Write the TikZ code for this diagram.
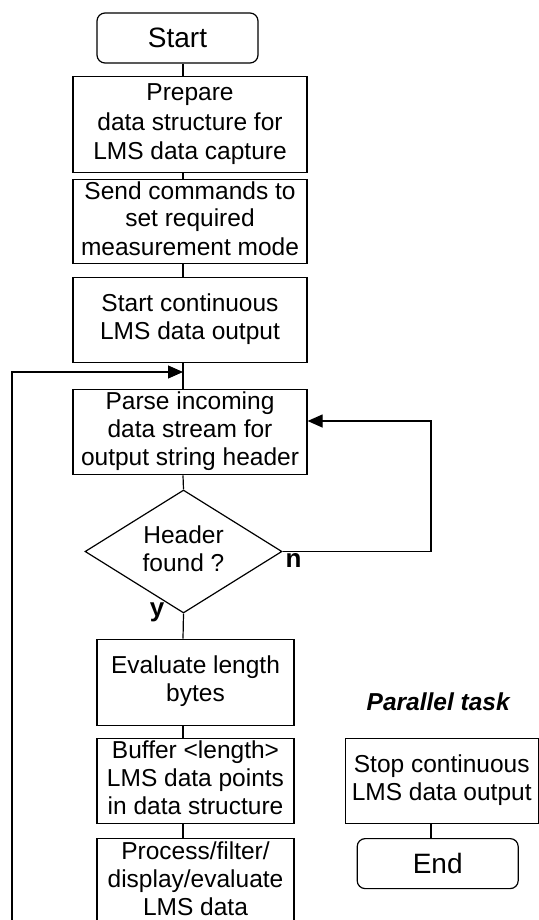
\documentclass[tikz,border=0pt]{standalone}
\usepackage{fontspec}
\setmainfont{Liberation Sans}
\usetikzlibrary{positioning,shapes.geometric,arrows.meta}

\begin{document}
\begin{tikzpicture}[x=1pt,y=-1pt]
            \tikzstyle{stages} = [rectangle,
            minimum width=234pt,
            inner sep=0pt,
            text centered,
            draw=black,
            line width=1.2pt,
            font=\fontsize{24.5}{28}\selectfont]
            \tikzstyle{terminal} = [stages, rounded corners=8pt,
            minimum width=161pt,
            minimum height=50pt,
            font=\fontsize{28}{32}\selectfont]
            \tikzstyle{decision} = [stages, diamond, aspect=1.6,
            minimum width=197pt,
            minimum height=123pt]
            \tikzstyle{connector} = [line width=1.2pt, black]
            \tikzstyle{arrow} = [connector, -{Triangle[length=15pt,width=13pt]}]
            \tikzstyle{answer} = [inner sep=0pt, anchor=base, font=\fontsize{26}{30}\selectfont\bfseries]
            \useasboundingbox (0,0) rectangle (538,920);
            \coordinate (spine) at (183,0);

            \node (stage1)[terminal] at (177.5,38) {Start};
            \node (stage2)[stages, minimum height=96pt, below=12pt of stage1, xshift=12.5pt, font=\fontsize{24.5}{29.5}\selectfont]{\begin{tabular}{c}Prepare\\ data structure for\\ LMS data capture\end{tabular}};
            \node (stage3)[stages, minimum height=83pt, below=6pt of stage2]{\begin{tabular}{c}Send commands to\\ set required\\ measurement mode\end{tabular}};
            \node (stage4)[stages, minimum height=85pt, below=13pt of stage3]{\begin{tabular}{c}Start continuous\\ LMS data output\end{tabular}};
            \node (stage5)[stages, minimum height=85pt, below=26pt of stage4]{\begin{tabular}{c}Parse incoming\\ data stream for\\ output string header\end{tabular}};
            \node (stage6)[decision, below=14pt of stage5, xshift=-6.5pt]{\begin{tabular}{c}Header\\ found ?\end{tabular}};
            \node (stage7)[stages, minimum width=197pt, minimum height=86pt, below=25pt of stage6, xshift=12pt]{\begin{tabular}{c}Evaluate length\\ bytes\end{tabular}};
            \node (stage8)[stages, minimum width=197pt, minimum height=85pt, below=12pt of stage7]{\begin{tabular}{c}Buffer <length>\\ LMS data points\\ in data structure\end{tabular}};
            \node (stage9)[stages, minimum width=197pt, minimum height=86pt, below=14pt of stage8]{\begin{tabular}{c}Process/filter/\\ display/evaluate\\ LMS data\end{tabular}};
            \node (stage10)[stages, minimum width=193pt, minimum height=85pt, right=50pt of stage8]{\begin{tabular}{c}Stop continuous\\ LMS data output\end{tabular}};
            \node (stage11)[terminal, below=14pt of stage10, xshift=-4pt]{End};
            \node (parallel)[inner sep=0pt, above=27pt of stage10, xshift=-3.5pt, font=\fontsize{24.5}{28}\selectfont\bfseries\itshape]{Parallel task};
            \node (no)[answer] at (293.5,567) {n};
            \node (yes)[answer] at (157,616) {y};

            \coordinate (loopl) at (12,920);
            \coordinate (merge) at (183,372);
            \coordinate (loopr) at (431,421);

            \draw [connector] (stage1.south -| spine) -- (stage2.north -| spine);
            \draw [connector] (stage2.south -| spine) -- (stage3.north -| spine);
            \draw [connector] (stage3.south -| spine) -- (stage4.north -| spine);
            \draw [connector] (stage4.south -| spine) -- (stage5.north -| spine);
            \draw [arrow] (loopl) |- (merge);
            \draw [connector] (stage5.south -| spine) -- (stage6.north);
            \draw [arrow] (stage6.east) -| (loopr) -- (loopr -| stage5.east);
            \draw [connector] (stage6.south) -- (stage7.north -| spine);
            \draw [connector] (stage7.south -| spine) -- (stage8.north -| spine);
            \draw [connector] (stage8.south -| spine) -- (stage9.north -| spine);
            \draw [connector] (stage9.south -| spine) -- (spine |- loopl);
            \draw [connector] (stage10.south -| loopr) -- (stage11.north -| loopr);
        \end{tikzpicture}
\end{document}
